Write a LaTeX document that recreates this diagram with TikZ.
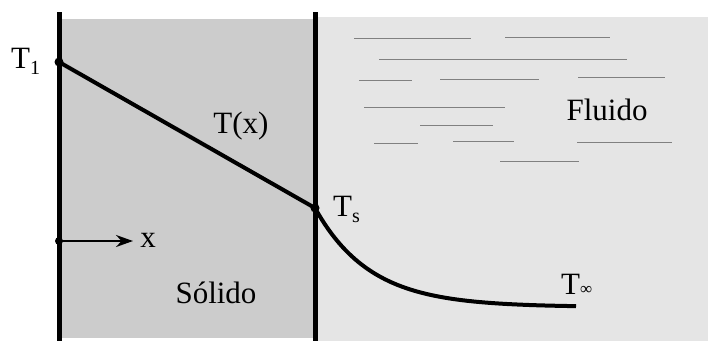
\documentclass[tikz,border=0pt]{standalone}
\usepackage{fontspec}
\setmainfont{Liberation Serif}
\usetikzlibrary{arrows.meta}
\definecolor{solidgray}{RGB}{204,204,204}
\definecolor{fluidgray}{RGB}{229,229,229}
\definecolor{streak}{RGB}{128,128,128}
\newcommand\lowsub[1]{\raisebox{-6pt}{\fontsize{20pt}{20pt}\selectfont #1}}
\begin{document}
\begin{tikzpicture}[x=1pt,y=-1pt,
  lbl/.style={inner sep=0pt, font=\fontsize{31pt}{31pt}\selectfont},
  dot/.style={circle, fill=black, inner sep=0pt, minimum size=9pt},
  wall/.style={line width=5pt},
  profile/.style={line width=4pt, line cap=butt},
  flow/.style={draw=streak, line width=1pt}]
\useasboundingbox (0,0) rectangle (708,341);
% regions
\fill[fluidgray] (315,17) rectangle (708,341);
\fill[solidgray] (59,19) rectangle (315,338);
% fluid streaks
\draw[flow] (354,38) -- (471,38);
\draw[flow] (505,37) -- (610,37);
\draw[flow] (379,59) -- (627,59);
\draw[flow] (359,80) -- (412,80);
\draw[flow] (440,79) -- (539,79);
\draw[flow] (578,77) -- (665,77);
\draw[flow] (364,107) -- (505,107);
\draw[flow] (420,125) -- (493,125);
\draw[flow] (374,143) -- (418,143);
\draw[flow] (453,141) -- (514,141);
\draw[flow] (577,142) -- (672,142);
\draw[flow] (500,161) -- (579,161);
% walls
\coordinate (lwtop) at (59,12);
\coordinate (lwbot) at (59,341);
\coordinate (rwtop) at (315,12);
\coordinate (rwbot) at (315,341);
\draw[wall] (lwtop) -- (lwbot);
\draw[wall] (rwtop) -- (rwbot);
% points
\node[dot] (t1) at (59,62) {};
\node[dot] (ts) at (315,208) {};
\node[dot,minimum size=8pt] (x0) at (59,241) {};
\coordinate (xend) at (133,241);
\coordinate (tinf) at (576,305);
% profiles
\draw[profile] (t1.center) -- (ts.center);
\draw[profile] plot[domain=315:576, samples=80] (\x,{307-99*exp(-(\x-315)/55)});
% x axis arrow
\draw[line width=2pt, -{Stealth[length=17pt,width=12pt]}] (x0.center) -- (xend);
% labels
\node[lbl, anchor=base west] (lt1) at (11,68) {T\lowsub{1}};
\node[lbl, anchor=base] (ltx) at (241,133) {T(x)};
\node[lbl, anchor=base west] (lts) at (333,216) {T\lowsub{s}};
\node[lbl, anchor=base] (lx) at (148,247) {x};
\node[lbl, anchor=base] (lsol) at (216,303) {Sólido};
\node[lbl, anchor=base] (lflu) at (607,120) {Fluido};
\node[lbl, anchor=base west] (ltinf) at (561,294) {T\raisebox{0pt}{\fontsize{17pt}{17pt}\selectfont ∞}};
\end{tikzpicture}
\end{document}
